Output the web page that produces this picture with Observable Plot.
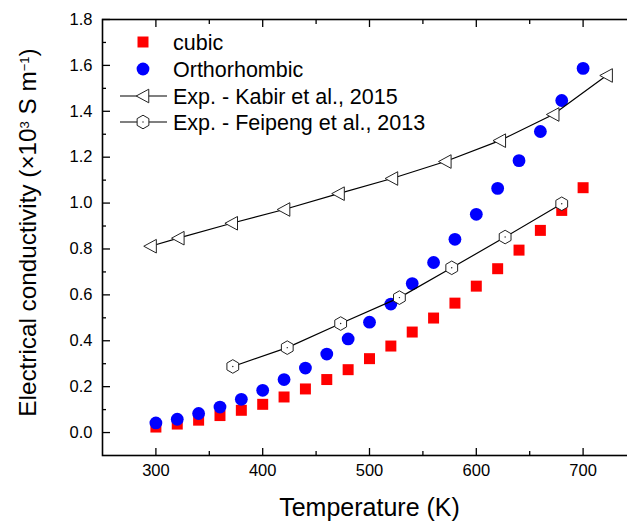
<!DOCTYPE html>
<html><head><meta charset="utf-8">
<script src="https://cdn.jsdelivr.net/npm/d3@7"></script>
<script src="https://cdn.jsdelivr.net/npm/@observablehq/plot@0.6"></script>
<style>
body{margin:0;background:#fff;font-family:"Liberation Sans",Arial,sans-serif;}
#wrap{position:relative;width:627px;height:522px;overflow:hidden;background:#fff;}
#wrap > svg.chart{max-width:none !important;width:636px !important;height:522px !important;display:block;}
#legend{position:absolute;left:0;top:0;}
</style></head><body><div id="wrap"></div>
<script>
// ---- data ----
const temps = [300,320,340,360,380,400,420,440,460,480,500,520,540,560,580,600,620,640,660,680,700];
const cubic = [0.024,0.037,0.054,0.074,0.097,0.123,0.155,0.19,0.231,0.274,0.322,0.377,0.438,0.499,0.564,0.638,0.714,0.795,0.881,0.968,1.067];
const ortho = [0.042,0.058,0.083,0.111,0.145,0.184,0.231,0.281,0.342,0.408,0.481,0.56,0.649,0.741,0.842,0.951,1.064,1.185,1.312,1.447,1.587];
const kabirT = [295,321,371,420,471,521,571,622,672,722];
const kabirS = [0.812,0.847,0.912,0.972,1.041,1.107,1.181,1.272,1.386,1.556];
const feipengT = [372,423,473,528,577,627,680];
const feipengS = [0.288,0.37,0.475,0.588,0.718,0.852,0.997];
const xTicks = [300,400,500,600,700];
const xMinor = [350,450,550,650];
const yTicks = [0,0.2,0.4,0.6,0.8,1.0,1.2,1.4,1.6,1.8];
const yMinor = [0.1,0.3,0.5,0.7,0.9,1.1,1.3,1.5,1.7];
const xLabel = "Temperature (K)";
const yLabelParts = [["Electrical conductivity (×10",false],["3",true],[" S m",false],["\u22121",true],[")",false]];
const legendLabels = ["cubic","Orthorhombic","Exp. - Kabir et al., 2015","Exp. - Feipeng et al., 2013"];

const cubicData = temps.map((t,i)=>({t, s:cubic[i]}));
const orthoData = temps.map((t,i)=>({t, s:ortho[i]}));
const kabir = kabirT.map((t,i)=>({t, s:kabirS[i]}));
const feipeng = feipengT.map((t,i)=>({t, s:feipengS[i]}));
const yLabel = yLabelParts.map(d=>d[0]).join("");

const sym = {
  triLeft: {draw(ctx, size){ const r=Math.sqrt(size/Math.PI); ctx.moveTo(-r,0); ctx.lineTo(r*0.85,-r); ctx.lineTo(r*0.85,r); ctx.closePath(); }},
  hex: {draw(ctx, size){ const r=Math.sqrt(size/Math.PI); for(let i=0;i<6;i++){const a=Math.PI/2+i*Math.PI/3; const x=r*Math.cos(a), y=r*Math.sin(a); if(i) ctx.lineTo(x,y); else ctx.moveTo(x,y);} ctx.closePath(); }}
};

const F = "Liberation Sans, Arial, sans-serif";
const chart = Plot.plot({
  width: 636, height: 522,
  marginLeft: 102, marginRight: 0, marginTop: 19, marginBottom: 67,
  className: "chart",
  style: {fontFamily: F, background: "white", color: "black"},
  x: {domain: [250, 750]},
  y: {domain: [-0.1, 1.8]},
  marks: [
    Plot.axisX(xTicks, {anchor: "bottom", tickSize: 0, tickPadding: 9, fontSize: 16.5, label: null}),
    Plot.axisX(xTicks, {anchor: "bottom", tickSize: -7, fill: "none", label: null, strokeWidth: 1.3}),
    Plot.axisX(xMinor, {anchor: "bottom", tickSize: -4, fill: "none", label: null, strokeWidth: 1.3}),
    Plot.axisX(xTicks, {anchor: "top", tickSize: -7, fill: "none", label: null, strokeWidth: 1.3}),
    Plot.axisX(xMinor, {anchor: "top", tickSize: -4, fill: "none", label: null, strokeWidth: 1.3}),
    Plot.axisY(yTicks, {anchor: "left", tickSize: 0, tickPadding: 10, fontSize: 16.5, label: null, tickFormat: d3.format(".1f")}),
    Plot.axisY(yTicks, {anchor: "left", tickSize: -8, fill: "none", label: null, strokeWidth: 1.3}),
    Plot.axisY(yMinor, {anchor: "left", tickSize: -4, fill: "none", label: null, strokeWidth: 1.3}),
    Plot.frame({stroke: "black", strokeWidth: 1.6}),
    Plot.text([xLabel], {text: d=>d, frameAnchor: "bottom", dy: 52, fontSize: 25, lineAnchor: "middle", textAnchor: "middle"}),
    Plot.text([yLabel], {text: d=>d, frameAnchor: "left", dx: -74, dy: -5, rotate: -90, fontSize: 24.3, lineAnchor: "middle", textAnchor: "middle"}),
    Plot.dot(cubicData, {x: "t", y: "s", symbol: "square", r: 6.2, fill: "#ff0000", stroke: "none"}),
    Plot.dot(orthoData, {x: "t", y: "s", symbol: "circle", r: 6.4, fill: "#0000ff", stroke: "none"}),
    Plot.line(kabir, {x: "t", y: "s", stroke: "black", strokeWidth: 1.2}),
    Plot.line(feipeng, {x: "t", y: "s", stroke: "black", strokeWidth: 1.2}),
    Plot.dot(kabir, {x: "t", y: "s", symbol: sym.triLeft, r: 6.8, fill: "white", stroke: "#222", strokeWidth: 1}),
    Plot.dot(feipeng, {x: "t", y: "s", symbol: sym.hex, r: 6.8, fill: "white", stroke: "#222", strokeWidth: 1}),
    Plot.dot(feipeng, {x: "t", y: "s", r: 0.7, fill: "#222", stroke: "none"})
  ]
});
chart.classList.add("chart");
chart.style.maxWidth = "none";
const wrap = document.getElementById("wrap");
wrap.appendChild(chart);

// superscripts in y label
const yt = [...chart.querySelectorAll("text")].find(e => e.textContent === yLabel);
if (yt) {
  const s = d3.select(yt); s.text(null);
  for (const [txt, sup] of yLabelParts) {
    const ts = s.append("tspan").text(txt);
    if (sup) ts.attr("font-size", 13).attr("baseline-shift", "super");
  }
}

// legend
const rowsY = [42, 69, 96, 122];
const lg = d3.select(wrap).append("svg").attr("id","legend").attr("width", 627).attr("height", 150)
  .style("font-family", F);
const sx = 143, tx = 173;
lg.append("path").attr("d", d3.symbol(d3.symbolSquare, Math.PI*6.2*6.2)()).attr("transform", `translate(${sx},${rowsY[0]})`).attr("fill","#ff0000");
lg.append("circle").attr("cx", sx).attr("cy", rowsY[1]).attr("r", 6.4).attr("fill", "#0000ff");
for (const k of [2,3]) {
  lg.append("line").attr("x1",120).attr("x2",167).attr("y1",rowsY[k]).attr("y2",rowsY[k]).attr("stroke","black").attr("stroke-width",1.2);
  lg.append("path").attr("d", d3.symbol(k===2 ? sym.triLeft : sym.hex, Math.PI*6.8*6.8)())
    .attr("transform", `translate(${sx},${rowsY[k]})`).attr("fill","white").attr("stroke","#222");
}
lg.append("circle").attr("cx", sx).attr("cy", rowsY[3]).attr("r", 0.7).attr("fill", "#222");
legendLabels.forEach((l,i)=>{
  lg.append("text").attr("x", tx).attr("y", rowsY[i]+7.5).attr("font-size", 21.5).attr("fill","black").text(l);
});
</script></body></html>
